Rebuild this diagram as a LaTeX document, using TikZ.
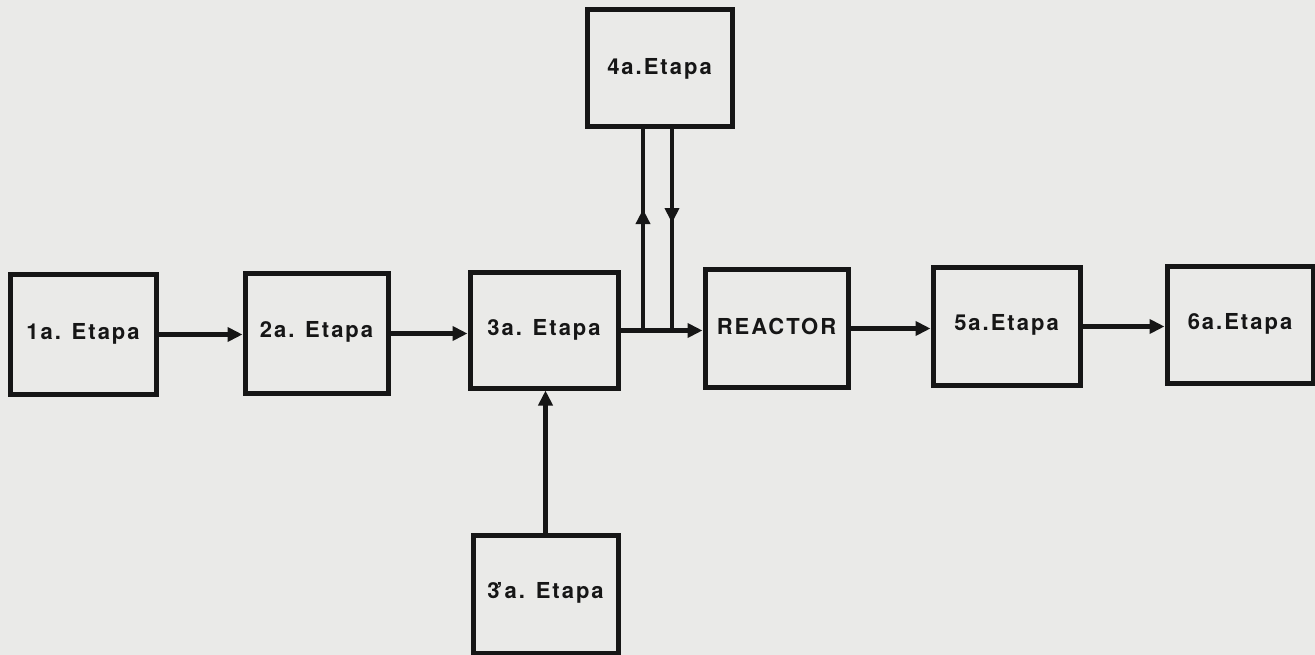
\documentclass[tikz,border=0pt]{standalone}
\usepackage{fontspec}
\setmainfont{TeX Gyre Heros}[LetterSpace=9]
\usetikzlibrary{arrows.meta,decorations.markings}
\definecolor{paper}{RGB}{234,234,232}
\definecolor{ink}{RGB}{22,22,22}
\begin{document}
\begin{tikzpicture}[x=1pt,y=-1pt,
  stagebox/.style={draw=ink,line width=5pt,rectangle,inner sep=0pt,font=\fontsize{22}{24}\selectfont\bfseries,text=ink},
  flow/.style={draw=ink,line width=4.5pt,-{Triangle[length=15pt,width=14pt]}},
  plain/.style={draw=ink,line width=4.5pt},
  midup/.style={postaction={decorate},decoration={markings,mark=at position #1 with {\arrow[ink]{Triangle[length=15pt,width=14pt]}}}}
]
\fill[paper] (0,0) rectangle (1315,655);
\useasboundingbox (0,0) rectangle (1315,655);

\node[stagebox,minimum width=146pt,minimum height=119pt] (b1) at (83,334.5) {\raisebox{7pt}{1a. Etapa}};
\node[stagebox,minimum width=143pt,minimum height=119pt] (b2) at (316.5,333.5) {\raisebox{8pt}{2a. Etapa}};
\node[stagebox,minimum width=148pt,minimum height=115pt] (b3) at (544,330.5) {\raisebox{7pt}{3a. Etapa}};
\node[stagebox,minimum width=145pt,minimum height=117pt] (b4) at (659.5,68.5) {\raisebox{3pt}{4a.Etapa}};
\node[stagebox,minimum width=143pt,minimum height=117pt] (reactor) at (776.5,328.5) {\raisebox{5pt}{REACTOR}};
\node[stagebox,minimum width=147pt,minimum height=117pt] (b5) at (1006.5,326.5) {\raisebox{8pt}{5a.Etapa}};
\node[stagebox,minimum width=146pt,minimum height=116pt] (b6) at (1240,325) {\raisebox{7pt}{6a.Etapa}};
\node[stagebox,minimum width=145pt,minimum height=118pt] (b3p) at (545.5,594) {\raisebox{7pt}{3\kern-3pt’a. Etapa}};

\coordinate (j1) at (643,328.5);
\coordinate (j2) at (672,328.5);

\draw[flow] (b1.east) -- (b1.east -| b2.west);
\draw[flow] (b2.east) -- (b2.east -| b3.west);
\draw[flow] (b3.east) -- (b3.east -| reactor.west);
\draw[flow] (reactor.east) -- (reactor.east -| b5.west);
\draw[flow] (b5.east) -- (b5.east -| b6.west);
\draw[flow] (b3p.north) -- (b3p.north |- b3.south);
\draw[plain,midup=0.6] (j1) -- (j1 |- b4.south);
\draw[plain,midup=0.47] (j2 |- b4.south) -- (j2);
\end{tikzpicture}
\end{document}
